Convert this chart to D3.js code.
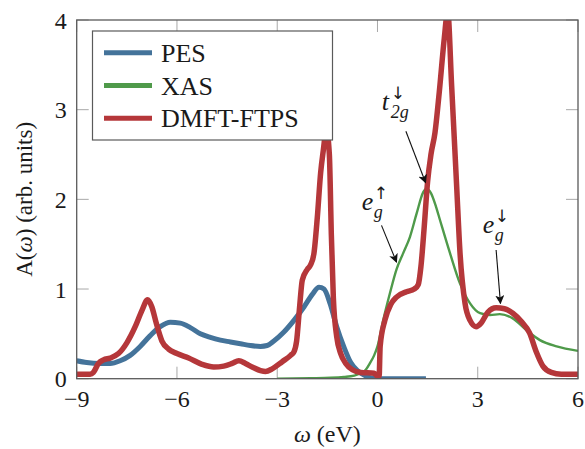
<!DOCTYPE html>
<html>
<head>
<meta charset="utf-8">
<script src="https://cdn.jsdelivr.net/npm/d3@7"></script>
<style>
  body { margin: 0; background: #fff; }
  svg { display: block; }
</style>
</head>
<body>
<svg id="chart" width="585" height="449"></svg>
<script>
// ---------- data ----------
const omegaTicks = [-9, -6, -3, 0, 3, 6];
const aTicks = [0, 1, 2, 3, 4];
const seriesNames = ["PES", "XAS", "DMFT-FTPS"];

const pesData = [
  [-9, 0.20], [-8.7, 0.18], [-8.3, 0.17], [-8.0, 0.17], [-7.7, 0.20], [-7.4, 0.26],
  [-7.1, 0.36], [-6.8, 0.48], [-6.5, 0.58], [-6.2, 0.63], [-5.9, 0.62], [-5.6, 0.57],
  [-5.3, 0.50], [-5.0, 0.46], [-4.7, 0.43], [-4.4, 0.41], [-4.1, 0.39], [-3.8, 0.37],
  [-3.5, 0.36], [-3.3, 0.37], [-3.1, 0.42], [-2.8, 0.52], [-2.5, 0.65], [-2.2, 0.80],
  [-1.95, 0.94], [-1.75, 1.02], [-1.6, 1.00], [-1.42, 0.84], [-1.22, 0.58], [-1.0, 0.35],
  [-0.8, 0.18], [-0.6, 0.09], [-0.4, 0.04], [-0.2, 0.01], [0, 0], [1.45, 0]
];

const xasData = [
  [-3, 0.0], [-2, 0.005], [-1.4, 0.01], [-1.0, 0.02], [-0.7, 0.035], [-0.5, 0.06],
  [-0.35, 0.10], [-0.23, 0.17], [-0.1, 0.26], [0, 0.36], [0.17, 0.65], [0.37, 0.95],
  [0.57, 1.22], [0.77, 1.40], [0.97, 1.58], [1.17, 1.84], [1.37, 2.08], [1.47, 2.12],
  [1.6, 2.07], [1.75, 1.92], [1.87, 1.77], [2.17, 1.40], [2.47, 1.06], [2.77, 0.84],
  [3.07, 0.73], [3.37, 0.71], [3.66, 0.72], [4.06, 0.67], [4.46, 0.54], [4.86, 0.43],
  [5.36, 0.36], [6.0, 0.31]
];

const dmftData = [
  [-9, 0.05], [-8.6, 0.05], [-8.5, 0.07], [-8.35, 0.17], [-8.2, 0.21], [-8.0, 0.23],
  [-7.75, 0.28], [-7.5, 0.40], [-7.25, 0.58], [-7.05, 0.76], [-6.88, 0.88], [-6.75, 0.80],
  [-6.62, 0.62], [-6.45, 0.42], [-6.25, 0.33], [-6.0, 0.28], [-5.65, 0.23], [-5.25, 0.16],
  [-4.9, 0.13], [-4.6, 0.14], [-4.35, 0.17], [-4.15, 0.20], [-3.95, 0.17], [-3.75, 0.13],
  [-3.5, 0.09], [-3.35, 0.08], [-3.15, 0.11], [-2.85, 0.19], [-2.6, 0.26], [-2.5, 0.30],
  [-2.42, 0.42], [-2.33, 0.80], [-2.25, 1.10], [-2.1, 1.22], [-2.0, 1.27], [-1.9, 1.40],
  [-1.8, 1.80], [-1.7, 2.30], [-1.62, 2.55], [-1.53, 2.78], [-1.44, 2.50], [-1.38, 1.60],
  [-1.32, 0.90], [-1.22, 0.47], [-1.1, 0.28], [-0.95, 0.17], [-0.75, 0.10], [-0.5, 0.07],
  [-0.1, 0.06], [0.0, 0.03], [0.05, 0.03], [0.08, 0.36], [0.22, 0.65], [0.4, 0.83],
  [0.57, 0.91], [0.87, 0.97], [1.1, 1.00], [1.22, 1.05], [1.3, 1.25], [1.4, 1.70],
  [1.5, 2.20], [1.6, 2.50], [1.72, 2.74], [1.85, 3.20], [2.0, 3.80], [2.1, 4.10],
  [2.22, 3.26], [2.37, 2.14], [2.47, 1.40], [2.62, 0.84], [2.77, 0.65], [2.95, 0.58],
  [3.1, 0.62], [3.3, 0.74], [3.55, 0.79], [3.8, 0.78], [4.05, 0.73], [4.3, 0.64],
  [4.55, 0.51], [4.75, 0.30], [4.95, 0.14], [5.2, 0.07], [5.5, 0.05], [6, 0.05]
];

// annotations (data coordinates): label anchor, arrow start, arrow end
const annotations = [
  { base: "t", sup: "\u2193", sub: "2g", at: [0.13, 3.0], from: [0.85, 2.76], to: [1.44, 2.185] },
  { base: "e", sup: "\u2191", sub: "g", at: [-0.47, 1.88], from: [0.12, 1.71], to: [0.57, 1.30] },
  { base: "e", sup: "\u2193", sub: "g", at: [3.15, 1.62], from: [3.55, 1.435], to: [3.68, 0.84] }
];

// ---------- layout ----------
const W = 585, H = 449;
const margin = { left: 76.7, right: 7, top: 20, bottom: 70.3 };
const x = d3.scaleLinear().domain([-9, 6]).range([margin.left, W - margin.right]);
const y = d3.scaleLinear().domain([0, 4]).range([H - margin.bottom, margin.top]);

const colors = { "PES": "#44739a", "XAS": "#4f9a4a", "DMFT-FTPS": "#b5373a" };
const widths = { "PES": 5, "XAS": 2.4, "DMFT-FTPS": 5.5 };
const seriesData = { "PES": pesData, "XAS": xasData, "DMFT-FTPS": dmftData };
const FONT = "Liberation Serif, Tinos, Times New Roman, DejaVu Serif, serif";
const ARROWFONT = "DejaVu Sans, Liberation Sans, sans-serif";
const TXT = "#1a1a1a";

const svg = d3.select("#chart");
const defs = svg.append("defs");
defs.append("clipPath").attr("id", "plotclip").append("rect")
  .attr("x", x(-9)).attr("y", y(4)).attr("width", x(6) - x(-9)).attr("height", y(0) - y(4));
defs.append("marker").attr("id", "arrow").attr("viewBox", "0 0 10 10")
  .attr("refX", 9).attr("refY", 5).attr("markerWidth", 9).attr("markerHeight", 9)
  .attr("markerUnits", "userSpaceOnUse").attr("orient", "auto")
  .append("path").attr("d", "M0,0 L10,5 L0,10 L2.5,5 Z").attr("fill", "#111");

// ticks (inward, all four sides)
const tickLen = 12, tickColor = "#a8a8a8";
const tg = svg.append("g");
omegaTicks.forEach(t => {
  tg.append("line").attr("x1", x(t)).attr("x2", x(t)).attr("y1", y(0)).attr("y2", y(0) - tickLen)
    .attr("stroke", tickColor).attr("stroke-width", 1);
  tg.append("line").attr("x1", x(t)).attr("x2", x(t)).attr("y1", y(4)).attr("y2", y(4) + tickLen)
    .attr("stroke", tickColor).attr("stroke-width", 1);
});
aTicks.forEach(t => {
  tg.append("line").attr("x1", x(-9)).attr("x2", x(-9) + tickLen).attr("y1", y(t)).attr("y2", y(t))
    .attr("stroke", tickColor).attr("stroke-width", 1);
  tg.append("line").attr("x1", x(6)).attr("x2", x(6) - tickLen).attr("y1", y(t)).attr("y2", y(t))
    .attr("stroke", tickColor).attr("stroke-width", 1);
});

// curves
const line = d3.line().x(d => x(d[0])).y(d => y(d[1])).curve(d3.curveMonotoneX);
const cg = svg.append("g").attr("clip-path", "url(#plotclip)");
seriesNames.forEach(name => {
  cg.append("path").datum(seriesData[name])
    .attr("d", line).attr("fill", "none")
    .attr("stroke", colors[name]).attr("stroke-width", widths[name])
    .attr("stroke-linejoin", "round").attr("stroke-linecap", "butt");
});

// frame
svg.append("rect").attr("x", x(-9)).attr("y", y(4))
  .attr("width", x(6) - x(-9)).attr("height", y(0) - y(4))
  .attr("fill", "none").attr("stroke", "#5a5a5a").attr("stroke-width", 1.3);

// tick labels
const fmt = v => (v < 0 ? "\u2212" + Math.abs(v) : String(v));
svg.append("g").selectAll("text").data(omegaTicks).join("text")
  .style("font-family", FONT).attr("fill", TXT)
  .attr("x", d => x(d)).attr("y", y(0) + 28).attr("text-anchor", "middle")
  .attr("font-size", 24).text(fmt);
svg.append("g").selectAll("text").data(aTicks).join("text")
  .style("font-family", FONT).attr("fill", TXT)
  .attr("x", x(-9) - 10).attr("y", d => y(d) + 8.5).attr("text-anchor", "end")
  .attr("font-size", 24).text(fmt);

// axis labels
const xl = svg.append("text").attr("x", (x(-9) + x(6)) / 2).attr("y", 442)
  .style("font-family", FONT).attr("fill", TXT).attr("text-anchor", "middle").attr("font-size", 24);
xl.append("tspan").attr("font-style", "italic").text("\u03C9");
xl.append("tspan").text(" (eV)");

const yl = svg.append("text").attr("transform", `translate(32,${(y(0) + y(4)) / 2}) rotate(-90)`)
  .style("font-family", FONT).attr("fill", TXT).attr("text-anchor", "middle").attr("font-size", 23);
yl.append("tspan").text("A(");
yl.append("tspan").attr("font-style", "italic").text("\u03C9");
yl.append("tspan").text(") (arb. units)");

// legend
const lg = svg.append("g");
lg.append("rect").attr("x", 92.5).attr("y", 31).attr("width", 240).attr("height", 109)
  .attr("fill", "#fff").attr("stroke", "#5a5a5a").attr("stroke-width", 1.2);
seriesNames.forEach((name, i) => {
  const yy = 52.7 + i * 32.8;
  lg.append("line").attr("x1", 104).attr("x2", 152).attr("y1", yy).attr("y2", yy)
    .attr("stroke", colors[name]).attr("stroke-width", 5);
  lg.append("text").style("font-family", FONT).attr("fill", TXT).attr("x", 161).attr("y", yy + 9)
    .attr("font-size", 26).text(name);
});

// annotations
const ag = svg.append("g");
annotations.forEach(a => {
  const ax = x(a.at[0]), ay = y(a.at[1]);
  ag.append("text").style("font-family", FONT).attr("fill", TXT).attr("x", ax).attr("y", ay)
    .attr("font-size", 26).attr("font-style", "italic").text(a.base);
  const bw = a.base === "t" ? 9 : 12;
  ag.append("text").style("font-family", ARROWFONT).attr("fill", TXT)
    .attr("x", ax + bw).attr("y", ay - 11)
    .attr("font-size", 17).text(a.sup + "\uFE0E");
  ag.append("text").style("font-family", FONT).attr("fill", TXT).attr("x", ax + bw).attr("y", ay + 8)
    .attr("font-size", 18).attr("font-style", "italic").text(a.sub);
  ag.append("line").attr("x1", x(a.from[0])).attr("y1", y(a.from[1]))
    .attr("x2", x(a.to[0])).attr("y2", y(a.to[1]))
    .attr("stroke", "#111").attr("stroke-width", 1.1).attr("marker-end", "url(#arrow)");
});
</script>
</body>
</html>
